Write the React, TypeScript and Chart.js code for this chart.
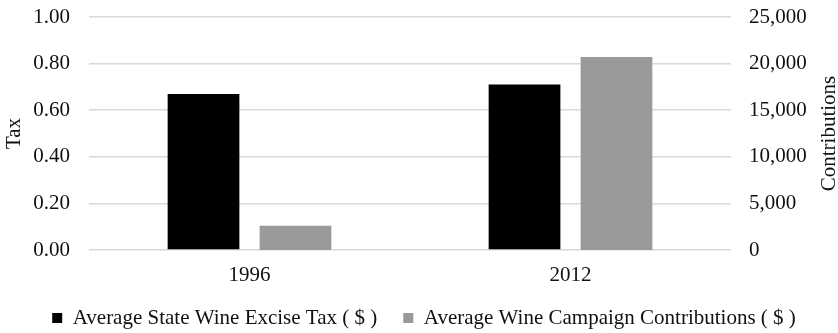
import React, { useEffect, useRef } from "react";
import { Chart, registerables } from "chart.js";

Chart.register(...registerables);

const categories = ["1996", "2012"];
const taxValues = [0.67, 0.71];
const contributionValues = [2600, 20700];
const taxLabel = "Average State Wine Excise Tax ( $ )";
const contribLabel = "Average Wine Campaign Contributions ( $ )";
const leftTitle = "Tax";
const rightTitle = "Contributions";

const FONT = "'Liberation Serif', 'Times New Roman', serif";
const TEXT = "#111111";
const FS = 21;

const rightTitlePlugin = {
  id: "rightTitle",
  afterLayout(chart: any) {
    // give the category labels room so they are not clipped
    if (chart.scales.x) chart.scales.x.bottom += 12;
    if (chart.legend) chart.legend.left += 10;
  },
  afterDraw(chart: any) {
    const { ctx, chartArea } = chart;
    ctx.save();
    ctx.font = `${FS}px ${FONT}`;
    ctx.fillStyle = TEXT;
    ctx.textAlign = "center";
    ctx.textBaseline = "middle";
    ctx.translate(829, (chartArea.top + chartArea.bottom) / 2);
    ctx.rotate(-Math.PI / 2);
    ctx.fillText(rightTitle, 0, 0);
    ctx.restore();
  },
};

export default function App() {
  const ref = useRef<HTMLCanvasElement>(null);
  useEffect(() => {
    document.body.style.margin = "0";
    const chart = new Chart(ref.current!, {
      type: "bar",
      data: {
        labels: categories,
        datasets: [
          {
            label: taxLabel,
            data: taxValues,
            backgroundColor: "#000000",
            yAxisID: "y",
            barPercentage: 0.78,
            categoryPercentage: 0.573,
          },
          {
            label: contribLabel,
            data: contributionValues,
            backgroundColor: "#9a9a9a",
            yAxisID: "y1",
            barPercentage: 0.78,
            categoryPercentage: 0.573,
          },
        ],
      },
      options: {
        animation: false,
        responsive: false,
        layout: { padding: { top: 0, left: 0, right: 0, bottom: -5.5 } },
        plugins: {
          tooltip: { enabled: false },
          legend: {
            position: "bottom",
            labels: {
              font: { family: FONT, size: FS },
              color: TEXT,
              boxWidth: 10,
              boxHeight: 10,
              padding: 26,
            },
          },
        },
        scales: {
          x: {
            grid: { display: false, drawTicks: false },
            border: { display: false },
            ticks: { font: { family: FONT, size: FS }, color: TEXT, padding: 13 },
            afterFit: (s: any) => {
              s.height = 31.5;
            },
          },
          y: {
            position: "left",
            min: 0,
            max: 1,
            grid: { color: "#d9d9d9", lineWidth: 1.5, drawTicks: false },
            border: { display: false },
            ticks: {
              stepSize: 0.2,
              font: { family: FONT, size: FS },
              color: TEXT,
              padding: 19,
              callback: (v: any) => Number(v).toFixed(2),
            },
            title: {
              display: true,
              text: leftTitle,
              font: { family: FONT, size: FS },
              color: TEXT,
              padding: { top: 2, bottom: 0 },
            },
            afterFit: (s: any) => {
              s.width = 89;
              s.paddingTop = 17;
              s.paddingBottom = 0;
            },
          },
          y1: {
            position: "right",
            min: 0,
            max: 25000,
            grid: { display: false, drawTicks: false },
            border: { display: false },
            ticks: {
              stepSize: 5000,
              font: { family: FONT, size: FS },
              color: TEXT,
              padding: 18,
              callback: (v: any) => Number(v).toLocaleString("en-US"),
            },
            afterFit: (s: any) => {
              s.width = 107;
              s.paddingTop = 17;
              s.paddingBottom = 0;
            },
          },
        },
      },
      plugins: [rightTitlePlugin],
    });
    return () => chart.destroy();
  }, []);
  return (
    <div style={{ position: "fixed", left: 0, top: 0, width: 838, height: 333, background: "#fff" }}>
      <canvas ref={ref} width={838} height={333} />
    </div>
  );
}
